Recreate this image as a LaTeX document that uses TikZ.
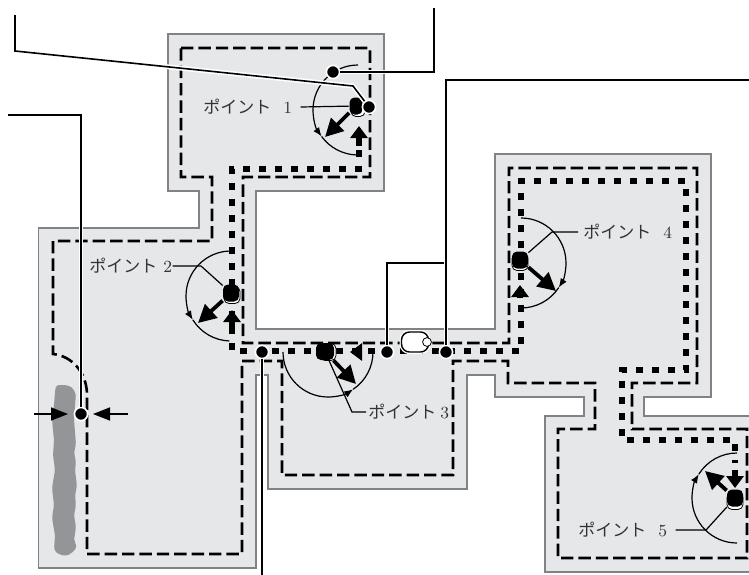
\documentclass[tikz,border=0pt]{standalone}
\usepackage{fontspec}
\usepackage{xcolor}
\usetikzlibrary{arrows.meta}
\newfontfamily\jpfont{Noto Sans CJK JP}
\newcommand{\PointTag}[2][6pt]{{\jpfont ポイント}\hspace{#1}#2}
\definecolor{roomgray}{HTML}{E6E7E8}
\definecolor{edgegray}{HTML}{808285}
\definecolor{stripgray}{HTML}{939598}
\tikzset{
  wall/.style={fill=roomgray,draw=edgegray,line width=.7pt},
  border/.style={line width=1.3pt,dash pattern=on 6.2pt off 2.5pt},
  route/.style={line width=2.6pt,dash pattern=on 3.5pt off 4.5pt},
  sweep/.style={line width=.6pt},
  sweeptip/.style={sweep,-{Latex[length=4.5pt,width=3.5pt]}},
  move/.style={line width=1.9pt,-{Triangle[length=9pt,width=9pt]}},
  feed/.style={line width=2.6pt,-{Triangle[length=6pt,width=8.5pt]}},
  squeeze/.style={line width=.8pt,-{Triangle[length=8.5pt,width=6.5pt]}},
  leader/.style={line width=.8pt,preaction={draw=white,line width=2.4pt}},
  tagline/.style={line width=.6pt},
  tag/.style={font=\fontsize{8.5}{10}\selectfont,text=black!80,inner sep=0pt,anchor=west},
  dot/.style={circle,fill=black,draw=white,line width=.8pt,minimum size=6.6pt,inner sep=0pt},
  sensor/.style={fill=black,rounded corners=2.5pt,minimum width=8pt,minimum height=8.5pt,inner sep=0pt},
  sensorback/.style={sensor,fill=white,draw=black,line width=.4pt},
}
\begin{document}
\begin{tikzpicture}[x=.5pt,y=.5pt]
  \clip (0,0) rectangle (749,-574);
  % floor outline
  \draw[wall] (168,-34) -- (384,-34) -- (384,-191) -- (256,-191) -- (256,-329)
    -- (495,-329) -- (495,-154) -- (711,-154) -- (711,-397) -- (644,-397)
    -- (644,-416) -- (755,-416) -- (755,-572) -- (545,-572) -- (545,-416)
    -- (584,-416) -- (584,-397) -- (495,-397) -- (495,-375) -- (467,-375)
    -- (467,-489) -- (268,-489) -- (268,-375) -- (256,-375) -- (256,-568)
    -- (38.5,-568) -- (38.5,-228) -- (199,-228) -- (199,-191) -- (168,-191) -- cycle;
  % paint strip
  \fill[stripgray,rounded corners=1.5pt] (56,-385) -- (66,-385) -- (72,-387) -- (76,-394)
    -- (75,-405) -- (74,-420) -- (75,-432) -- (76,-445) -- (74,-452) -- (76,-462)
    -- (75,-470) -- (77,-486) -- (75,-495) -- (76,-505) -- (74,-515) -- (76,-527)
    -- (74,-540) -- (77,-547) -- (72,-553) -- (66,-556) -- (58,-554) -- (54,-550)
    -- (55,-535) -- (52,-518) -- (54,-505) -- (52,-488) -- (55,-470) -- (53,-455)
    -- (54,-440) -- (52,-420) -- (54,-405) -- (55,-392) -- cycle;
  % teaching border
  \draw[border] (181,-48) -- (370,-48) -- (370,-177) -- (243,-177) -- (243,-343)
    -- (509,-343) -- (509,-168) -- (697,-168) -- (697,-383) -- (632,-383)
    -- (632,-429) -- (747,-429) -- (747,-558) -- (558,-558) -- (558,-429)
    -- (595,-429) -- (595,-383) -- (508,-383) -- (508,-361) -- (453,-361)
    -- (453,-475) -- (282,-475) -- (282,-361) -- (242,-361) -- (242,-554)
    -- (87,-554) -- (87,-393) .. controls (86,-372) and (72,-356) .. (53,-354)
    -- (53,-241) -- (212,-241) -- (212,-177) -- (181,-177) -- cycle;
  % robot route
  \draw[route] (359,-150) -- (359,-169) -- (232,-169) -- (232,-351) -- (521,-351)
    -- (521,-181) -- (686,-181) -- (686,-370) -- (622,-370) -- (622,-440)
    -- (735,-440) -- (735,-463);
  % sweep arcs
  \draw[sweeptip] (358,-65) arc[start angle=90,end angle=216,radius=45];
  \draw[sweep] (358,-110) ++(216:45) arc[start angle=216,end angle=268,radius=45];
  \draw[sweeptip] (231,-251) arc[start angle=90,end angle=212,radius=45];
  \draw[sweep] (231,-296) ++(212:45) arc[start angle=212,end angle=268,radius=45];
  \draw[sweeptip] (283,-352) arc[start angle=180,end angle=304,radius=45];
  \draw[sweep] (328,-352) ++(304:45) arc[start angle=304,end angle=360,radius=45];
  \draw[sweeptip] (521,-218) arc[start angle=90,end angle=-33,radius=45];
  \draw[sweep] (521,-263) ++(-33:45) arc[start angle=-33,end angle=-90,radius=45];
  \draw[sweeptip] (737,-543) arc[start angle=270,end angle=148,radius=45];
  \draw[sweep] (737,-498) ++(148:45) arc[start angle=148,end angle=90,radius=45];
  % points
  \node[sensorback,minimum width=7pt] at (358,-108) {};
  \node[sensor,minimum width=6.5pt] (pointone) at (356,-106) {};
  \node[sensorback] at (232,-295) {};
  \node[sensor] (pointtwo) at (231,-293) {};
  \node[sensorback] at (328,-352) {};
  \node[sensor,minimum width=9pt] (pointthree) at (325,-351.5) {};
  \node[sensorback] at (520,-262) {};
  \node[sensor] (pointfour) at (520,-260) {};
  \node[sensorback] at (735,-501) {};
  \node[sensor] (pointfive) at (735,-498) {};
  % travel directions
  \coordinate (dirone) at (325,-137);
  \coordinate (dirtwo) at (198,-323);
  \coordinate (dirthree) at (356,-384);
  \coordinate (dirfour) at (556,-291);
  \coordinate (dirfive) at (705,-471);
  \draw[move] (pointone) -- (dirone);
  \draw[move] (pointtwo) -- (dirtwo);
  \draw[move] (pointthree) -- (dirthree);
  \draw[move] (pointfour) -- (dirfour);
  \draw[move] (pointfive) -- (dirfive);
  % approach arrows
  \draw[feed] (359,-146) -- (359,-126);
  \draw[feed] (232,-333) -- (232,-310);
  \draw[feed] (362,-352) -- (350,-352);
  \draw[feed] (520,-298) -- (520,-285);
  \draw[feed] (735,-470) -- (735,-488);
  % point labels
  \node[tag] (tagone) at (203,-107) {\PointTag{1}};
  \node[tag] (tagtwo) at (89,-266) {\PointTag[3pt]{2}};
  \node[tag] (tagthree) at (368,-412) {\PointTag[2pt]{3}};
  \node[tag] (tagfour) at (583,-232) {\PointTag{4}};
  \node[tag] (tagfive) at (578,-530) {\PointTag{5}};
  \coordinate (kinktwo) at (201,-266);
  \coordinate (kinkthree) at (352,-412);
  \coordinate (kinkfour) at (552,-232);
  \coordinate (kinkfive) at (706,-530);
  \draw[tagline] ([xshift=4pt]tagone.east) -- (pointone);
  \draw[tagline] (tagtwo.east) -- (kinktwo) -- (pointtwo);
  \draw[tagline] ([xshift=-1pt]tagthree.west) -- (kinkthree) -- (pointthree);
  \draw[tagline] ([xshift=-2.5pt]tagfour.west) -- (kinkfour) -- (pointfour);
  \draw[tagline] ([xshift=4pt]tagfive.east) -- (kinkfive) -- (pointfive);
  % width arrows
  \coordinate (leftend) at (34,-414);
  \coordinate (lefttip) at (68,-414);
  \coordinate (rightend) at (128,-414);
  \coordinate (righttip) at (93,-414);
  \draw[squeeze] (leftend) -- (lefttip);
  \draw[squeeze] (rightend) -- (righttip);
  % valve
  \node[draw=black,fill=white,line width=.7pt,rounded corners=4pt,minimum width=13.5pt,
    minimum height=10pt,inner sep=0pt,preaction={draw=white,line width=2pt}] (valve) at (415,-342) {};
  \node[circle,draw=black,fill=white,line width=.4pt,minimum size=4.4pt,inner sep=0pt] (valvetip) at (427,-342) {};
  % leaders with their dots
  \node[dot] (dotapproach) at (333,-72) {};
  \node[dot] (dottool) at (369,-107) {};
  \node[dot] (dotwidth) at (81,-414) {};
  \node[dot] (dotspeed) at (262,-352) {};
  \node[dot] (dotleft) at (387,-352) {};
  \node[dot] (dotright) at (446,-352) {};
  \coordinate (cornera) at (434,-72);
  \coordinate (enda) at (434,-8);
  \coordinate (cornerb) at (353,-86);
  \coordinate (bendb) at (15,-51);
  \coordinate (endb) at (15,-15);
  \coordinate (cornerc) at (81,-115);
  \coordinate (endc) at (8,-115);
  \coordinate (endd) at (262,-576);
  \coordinate (cornere) at (387,-263);
  \coordinate (joine) at (446,-263);
  \coordinate (cornerf) at (446,-80);
  \coordinate (endf) at (752,-80);
  \draw[leader] (dotapproach) -- (cornera) -- (enda);
  \draw[leader] (dottool) -- (cornerb) -- (bendb) -- (endb);
  \draw[leader] (dotwidth) -- (cornerc) -- (endc);
  \draw[leader] (dotspeed) -- (endd);
  \draw[leader] (dotleft) -- (cornere) -- (joine);
  \draw[leader] (dotright) -- (cornerf) -- (endf);
\end{tikzpicture}
\end{document}
